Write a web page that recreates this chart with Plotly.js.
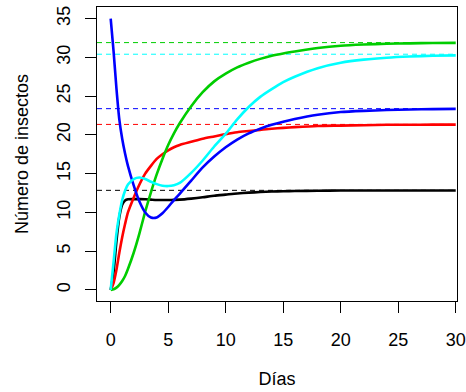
<!DOCTYPE html>
<html>
<head>
<meta charset="utf-8">
<script src="https://cdn.plot.ly/plotly-3.0.1.min.js"></script>
<style>html,body{margin:0;padding:0;background:#fff;}#chart{width:466px;height:392px;}</style>
</head>
<body>
<div id="chart"></div>
<script>
// Days sampled
var dias = [0,0.25,0.5,0.75,1,1.25,1.5,2,2.5,3,3.5,4,4.5,5,5.5,6,7,8,9,10,11,12,13,14,15,16,18,20,22,24,26,28,30];
// Series (colours from R palette 1..5)
var serieNegra = [0,2.3,6.3,9.4,11.0,11.55,11.7,11.72,11.72,11.7,11.65,11.6,11.6,11.6,11.62,11.65,11.78,11.95,12.15,12.3,12.45,12.55,12.63,12.7,12.74,12.76,12.8,12.82,12.82,12.82,12.82,12.82,12.82];
var serieRoja = [0,0.9,2.6,4.8,6.8,8.5,10.0,11.9,13.6,15.0,16.0,16.9,17.5,18.0,18.4,18.7,19.1,19.5,19.8,20.1,20.35,20.5,20.65,20.8,20.9,21.0,21.15,21.2,21.25,21.3,21.3,21.32,21.32];
var serieVerde = [0,0.1,0.3,0.65,1.15,1.8,2.7,4.8,7.3,10.1,12.6,14.9,16.9,18.7,20.2,21.5,23.7,25.5,26.9,27.9,28.7,29.3,29.8,30.2,30.5,30.75,31.2,31.5,31.65,31.75,31.8,31.85,31.87];
var serieAzul = [35,30.8,26.0,22.0,19.5,17.6,16.0,13.5,11.4,10.0,9.35,9.35,9.9,10.7,11.6,12.4,14.1,15.8,17.2,18.4,19.4,20.2,20.8,21.3,21.7,22.05,22.6,22.95,23.1,23.2,23.28,23.32,23.35];
var serieCian = [0,3.6,7.3,9.7,11.6,12.8,13.6,14.3,14.5,14.3,13.95,13.65,13.45,13.4,13.5,13.8,15.1,16.7,18.5,20.15,22.0,23.6,24.9,25.9,26.8,27.5,28.6,29.3,29.7,29.95,30.1,30.2,30.25];
var asintotas = [12.85, 21.35, 31.9, 23.38, 30.4];
var colores = ['#000000', '#FF0000', '#00CD00', '#0000FF', '#00FFFF'];
var series = [serieNegra, serieRoja, serieVerde, serieAzul, serieCian];
var xTicks = [0,5,10,15,20,25,30];
var yTicks = [0,5,10,15,20,25,30,35];

var traces = series.map(function(s, i){
  return {x: dias, y: s, type: 'scatter', mode: 'lines',
          line: {color: colores[i], width: 2.6, shape: 'spline', smoothing: 0.6},
          hoverinfo: 'skip', showlegend: false};
});
var shapes = asintotas.map(function(v, i){
  return {type: 'line', xref: 'paper', x0: 0, x1: 1, yref: 'y', y0: v, y1: v,
          line: {color: colores[i], width: 1, dash: '5px,4px'}, layer: 'below'};
});
var fnt = {family: 'Liberation Sans, Arial, sans-serif', size: 18, color: '#000'};
var layout = {
  width: 466, height: 392,
  margin: {l: 97, r: 9, t: 7, b: 91, pad: 0},
  paper_bgcolor: '#fff', plot_bgcolor: '#fff',
  font: fnt,
  showlegend: false,
  shapes: shapes,
  xaxis: {range: [-1.19, 30.11], tickvals: xTicks, ticktext: xTicks.map(String),
          ticks: 'outside', ticklen: 11, tickwidth: 1, tickcolor: '#000',
          showline: true, mirror: true, linecolor: '#000', linewidth: 1,
          showgrid: false, zeroline: false, ticklabelstandoff: 11,
          tickfont: fnt,
          title: {text: 'Días', font: fnt, standoff: 23}},
  yaxis: {range: [-1.42, 36.49], tickvals: yTicks, ticktext: yTicks.map(String),
          ticks: 'outside', ticklen: 11, tickwidth: 1, tickcolor: '#000',
          showline: true, mirror: true, linecolor: '#000', linewidth: 1,
          showgrid: false, zeroline: false, tickangle: -90, ticklabelstandoff: 8,
          tickfont: fnt,
          title: {text: 'Número de insectos', font: fnt, standoff: 20}}
};
Plotly.newPlot('chart', traces, layout, {staticPlot: true, displayModeBar: false});
</script>
</body>
</html>
